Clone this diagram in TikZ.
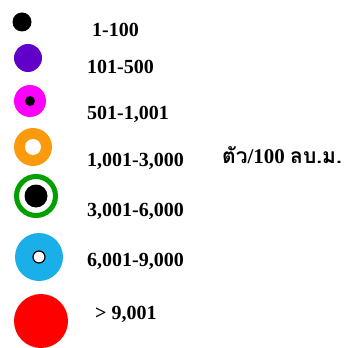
\documentclass[tikz,border=0pt]{standalone}
\usepackage{fontspec}
\setmainfont{Liberation Serif}
\newfontfamily\thaifont[Script=Thai]{Loma}

\begin{document}
\begin{tikzpicture}[x=1pt, y=-1pt,
    dot/.style={circle, draw=none, inner sep=0pt},
    rangeLabel/.style={anchor=base west, inner sep=0pt, font=\fontsize{20}{24}\selectfont\bfseries}]
    \definecolor{dotPurple}{HTML}{6000C8}
    \definecolor{dotMagenta}{HTML}{FF00FF}
    \definecolor{dotOrange}{HTML}{FA9A0C}
    \definecolor{dotGreen}{HTML}{00A000}
    \definecolor{dotBlue}{HTML}{1AAFE8}
    \definecolor{dotRed}{HTML}{FF0000}

    \useasboundingbox (0,0) rectangle (352,347);

    % legend symbols
    \node[dot, fill=black, minimum size=19pt] (d1) at (22,22) {};
    \node[dot, fill=dotPurple, minimum size=28pt] (d2) at (28,58) {};
    \node[dot, fill=dotMagenta, minimum size=32pt] (d3) at (30,101) {};
    \fill[black] (d3.center) circle (5);
    \node[dot, fill=dotOrange, minimum size=38pt] (d4) at (33,147) {};
    \fill[white] (d4.center) circle (8);
    \node[dot, draw=dotGreen, line width=5pt, fill=white, minimum size=39pt] (d5) at (36,196) {};
    \fill[black] (d5.center) circle (11.5);
    \node[dot, fill=dotBlue, minimum size=48pt] (d6) at (39,257) {};
    \filldraw[fill=white, draw=black, line width=1.2pt] (d6.center) circle (6);
    \node[dot, fill=dotRed, minimum size=54pt] (d7) at (41,321) {};

    % ranges
    \node[rangeLabel] (t1) at (92,37) {1-100};
    \node[rangeLabel] (t2) at (87,74) {101-500};
    \node[rangeLabel] (t3) at (87,120) {501-1,001};
    \node[rangeLabel] (t4) at (87,166) {1,001-3,000};
    \node[rangeLabel] (t5) at (87,216) {3,001-6,000};
    \node[rangeLabel] (t6) at (87,266) {6,001-9,000};
    \node[rangeLabel] (t7) at (95,319) {> 9,001};

    % unit
    \node[anchor=base west, inner sep=0pt, font=\fontsize{21}{25}\selectfont\bfseries] (unit) at (222,163)
        {{\thaifont ตัว}/100 {\thaifont ลบ.ม.}};
\end{tikzpicture}
\end{document}
